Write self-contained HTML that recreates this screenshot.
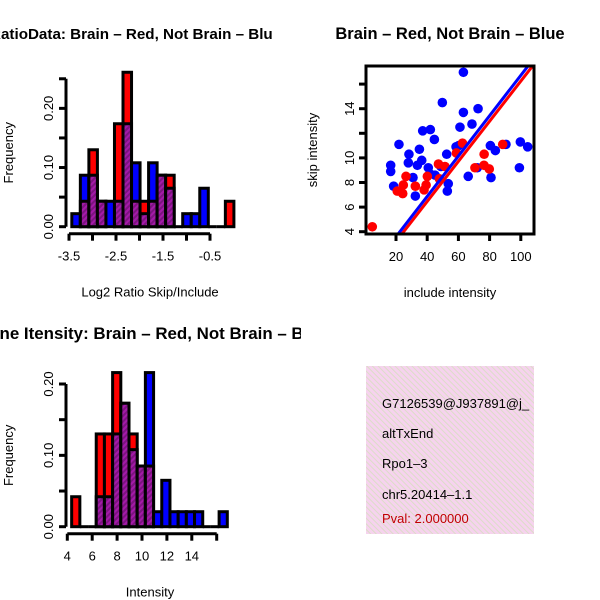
<!DOCTYPE html>
<html><head><meta charset="utf-8"><style>
body{margin:0;background:#fff}
svg{display:block;font-family:"Liberation Sans",sans-serif}
</style></head><body>
<svg id="c" width="600" height="600" viewBox="0 0 600 600">
<defs>
<pattern id="hatch" patternUnits="userSpaceOnUse" width="4" height="4" patternTransform="rotate(45)">
<rect width="4" height="4" fill="#a41aa8"/><rect width="2" height="4" fill="#7c1480"/>
</pattern>
<pattern id="pinkh" patternUnits="userSpaceOnUse" width="4" height="4" patternTransform="rotate(-45)">
<rect width="4" height="4" fill="#f6d3ee"/><rect width="1" height="4" fill="#dcdcc8"/>
</pattern>
<clipPath id="scClip"><rect x="366" y="66" width="168" height="168"/></clipPath>
<clipPath id="t1Clip"><rect x="0" y="0" width="273" height="300"/></clipPath>
<clipPath id="t3Clip"><rect x="0" y="300" width="301" height="300"/></clipPath>
</defs>
<g clip-path="url(#t1Clip)"><text x="-10" y="39" font-size="15.2" font-weight="bold">RatioData: Brain – Red, Not Brain – Blue</text></g>
<text x="450" y="39" font-size="16.5" font-weight="bold" text-anchor="middle">Brain – Red, Not Brain – Blue</text>
<g clip-path="url(#t3Clip)"><text x="-23" y="339" font-size="16.9" font-weight="bold">Gene Itensity: Brain – Red, Not Brain – Blue</text></g>
<g id="h1"></g>
<g id="h2"></g>
<g id="sc"></g>
<g>
<rect x="366" y="366" width="168" height="168" fill="url(#pinkh)"/>
<svg x="366" y="366" width="168" height="168" overflow="hidden">
<g font-size="13">
<text x="16" y="42">G7126539@J937891@j_</text>
<text x="16" y="72">altTxEnd</text>
<text x="16" y="102">Rpo1–3</text>
<text x="16" y="133">chr5.20414–1.1</text>
<text x="16" y="157" fill="#c00000">Pval: 2.000000</text>
</g></svg>
</g>
</svg>
<script>
// Ratio histogram data (19 bins)
const h1Start = -3.44, h1Width = 0.1815;
const h1Blue = [0.022,0.087,0.087,0.043,0.043,0.043,0.174,0.108,0.022,0.108,0.087,0.065,0,0.022,0.022,0.065,0,0,0];
const h1Red  = [0,0.043,0.130,0.043,0,0.174,0.261,0.043,0.043,0.043,0.087,0.087,0,0,0,0,0,0,0.043];
const h1XTicks = [-3.5,-3,-2.5,-2,-1.5,-1,-0.5];
const h1XLabels = ["-3.5","","-2.5","","-1.5","","-0.5"];
const h1YTicks = [0,0.05,0.10,0.15,0.20,0.25];
const h1YLabels = ["0.00","","0.10","","0.20",""];
// Intensity histogram data (19 bins)
const h2Start = 4.35, h2Width = 0.658;
const h2Blue = [0,0,0,0.042,0.042,0.13,0.173,0.108,0.085,0.216,0.021,0.065,0.021,0.021,0.021,0.021,0,0,0.021];
const h2Red  = [0.042,0,0,0.13,0.13,0.216,0.173,0.13,0.085,0.085,0,0,0,0,0,0,0,0,0];
const h2XTicks = [4,6,8,10,12,14,16];
const h2XLabels = ["4","6","8","10","12","14",""];
const h2YTicks = [0,0.05,0.10,0.15,0.20];
const h2YLabels = ["0.00","","0.10","","0.20"];
// Scatter data
const blueX = [63.2,49.7,63.2,72.6,68.7,61,37.1,42,44.6,21.9,28.3,35,16.6,16.6,27.9,33.7,36.5,40.7,41.8,45,48.8,52.5,58.5,60.2,30.9,18.5,32.4,53.5,52.9,66.3,72.1,80.9,80.5,83.7,90.5,99.7,104.4,99.1];
const blueY = [16.96,14.5,13.7,14.0,12.75,12.5,12.2,12.3,11.5,11.1,10.3,10.7,9.4,8.9,9.6,9.4,9.8,9.2,8.7,8.6,9.3,10.3,10.9,11.0,8.4,7.7,6.9,7.9,7.3,8.5,9.2,8.4,11.0,10.6,11.1,11.3,10.9,9.2];
const redX = [4.8,20.8,24.3,24.7,26.4,32.4,38,39.3,40.1,47.2,51.4,47.8,62.6,58.7,76.5,70.6,76.4,79.8,88.4];
const redY = [4.4,7.3,7.1,7.8,8.5,7.7,7.4,7.8,8.5,9.5,9.3,8.3,11.2,10.4,10.3,9.2,9.4,9.1,11.1];
const redFit = [-0.06,0.163];
const blueFit = [0.31,0.164];
const scXTicks = [20,40,60,80,100];
const scYTicks = [4,6,8,10,12,14,16];
const scYLabels = ["4","6","8","10","","14",""];

const NS="http://www.w3.org/2000/svg";
function mk(p,tag,a){const e=document.createElementNS(NS,tag);for(const k in a)e.setAttribute(k,a[k]);p.appendChild(e);return e;}

function hist(g,start,w,blue,red,xT,xL,yT,yL,xs,ys,xlabel){
  blue.forEach((b,i)=>{
    const r=red[i];const x0=xs(start+i*w),x1=xs(start+(i+1)*w);
    const lo=Math.min(b,r),hi=Math.max(b,r);
    if(hi>0){const el=mk(g,'rect',{x:x0,y:ys(hi),width:x1-x0,height:ys(0)-ys(hi),fill:b>r?'#0000ff':'#ff0000',stroke:'#000','stroke-width':3});
      
      }
    if(lo>0){const el=mk(g,'rect',{x:x0,y:ys(lo),width:x1-x0,height:ys(0)-ys(lo),fill:'url(#hatch)',stroke:'#000','stroke-width':3});
      
      }
    if(hi===0){mk(g,'line',{x1:x0,x2:x1,y1:ys(0),y2:ys(0),stroke:'#000','stroke-width':3});}
  });
  const ya=mk(g,'g',{});
  
  
  const yx=66;
  mk(ya,'line',{x1:yx,x2:yx,y1:ys(yT[0]),y2:ys(yT[yT.length-1]),stroke:'#000','stroke-width':3});
  yT.forEach((t,i)=>{mk(ya,'line',{x1:yx-7,x2:yx,y1:ys(t),y2:ys(t),stroke:'#000','stroke-width':3});
    if(yL[i]){const tx=mk(ya,'text',{x:0,y:0,'font-size':13,'text-anchor':'middle',transform:`translate(${yx-13},${ys(t)}) rotate(-90)`});tx.textContent=yL[i];
      
      }});
  const xa=mk(g,'g',{});
  
  
  const xy=ys(0)+7;
  mk(xa,'line',{x1:xs(xT[0]),x2:xs(xT[xT.length-1]),y1:xy,y2:xy,stroke:'#000','stroke-width':3});
  xT.forEach((t,i)=>{mk(xa,'line',{x1:xs(t),x2:xs(t),y1:xy,y2:xy+7,stroke:'#000','stroke-width':3});
    if(xL[i]){const tx=mk(xa,'text',{x:xs(t),y:xy+27,'font-size':13,'text-anchor':'middle'});tx.textContent=xL[i];
      
      }});
  const yt=mk(g,'text',{x:0,y:0,'font-size':13,'text-anchor':'middle',transform:`translate(13,${(ys(0)+ys(yT[yT.length-1]))/2}) rotate(-90)`});
  yt.textContent='Frequency';
  
  
  const xt=mk(g,'text',{x:150,y:ys(0)+70,'font-size':13,'text-anchor':'middle'});
  xt.textContent=xlabel;
  
  
}
hist(document.getElementById('h1'),h1Start,h1Width,h1Blue,h1Red,h1XTicks,h1XLabels,h1YTicks,h1YLabels,
  v=>69+(v+3.5)*47, v=>226.7-v*591.7,'Log2 Ratio Skip/Include');
hist(document.getElementById('h2'),h2Start,h2Width,h2Blue,h2Red,h2XTicks,h2XLabels,h2YTicks,h2YLabels,
  v=>67.3+(v-4)*12.45, v=>526.7-v*713.5,'Intensity');

// scatter
const sc=document.getElementById('sc');
const sx=v=>396+(v-20)*1.56, sy=v=>231.7-(v-4)*12.3;
const inner=mk(sc,'g',{'clip-path':'url(#scClip)'});
blueX.forEach((v,i)=>{const c=mk(inner,'circle',{cx:sx(v),cy:sy(blueY[i]),r:4.8,fill:'#0000ff'});
  
  });
redX.forEach((v,i)=>{const c=mk(inner,'circle',{cx:sx(v),cy:sy(redY[i]),r:4.8,fill:'#ff0000'});
  
  });
[[redFit,'#ff0000','fit-line-red'],[blueFit,'#0000ff','fit-line-blue']].forEach(([f,col,n])=>{
  const l=mk(inner,'line',{x1:sx(0),y1:sy(f[0]),x2:sx(120),y2:sy(f[0]+f[1]*120),stroke:col,'stroke-width':3});
  
  });
const box=mk(sc,'rect',{x:366,y:66,width:168,height:168,fill:'none',stroke:'#000','stroke-width':3});


scXTicks.forEach(t=>{mk(sc,'line',{x1:sx(t),x2:sx(t),y1:234,y2:241,stroke:'#000','stroke-width':3});
  const tx=mk(sc,'text',{x:sx(t),y:261,'font-size':13,'text-anchor':'middle'});tx.textContent=String(t);
  
  });
scYTicks.forEach((t,i)=>{mk(sc,'line',{x1:359,x2:366,y1:sy(t),y2:sy(t),stroke:'#000','stroke-width':3});
  if(scYLabels[i]){const tx=mk(sc,'text',{x:0,y:0,'font-size':13,'text-anchor':'middle',transform:`translate(354,${sy(t)}) rotate(-90)`});tx.textContent=scYLabels[i];
  
  }});
const sxt=mk(sc,'text',{x:450,y:297,'font-size':13,'text-anchor':'middle'});sxt.textContent='include intensity';


const syt=mk(sc,'text',{x:0,y:0,'font-size':13,'text-anchor':'middle',transform:'translate(317,150) rotate(-90)'});syt.textContent='skip intensity';


</script>
</body></html>
